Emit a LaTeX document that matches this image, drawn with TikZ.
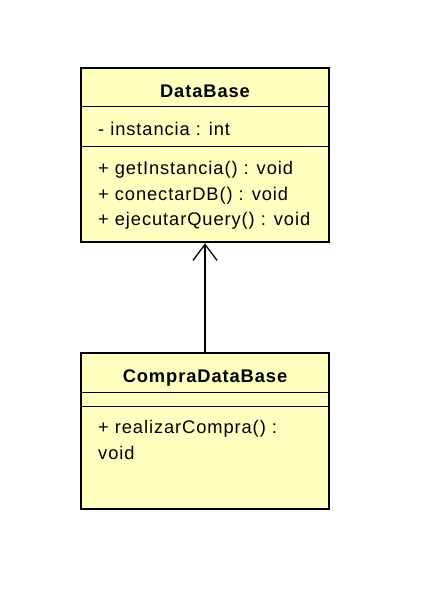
\documentclass[tikz,border=0pt]{standalone}
\usepackage{fontspec}
\setmainfont[LetterSpace=5]{Liberation Sans}
\usetikzlibrary{arrows.meta}
\definecolor{umlfill}{HTML}{FFFFC0}
\begin{document}
\begin{tikzpicture}[x=1pt,y=-1pt,
  classbox/.style={draw=black,fill=umlfill,line width=2.6pt,rectangle,inner sep=0pt,minimum width=248pt},
  sep/.style={line width=1pt},
  member/.style={anchor=base west,inner sep=0pt,font=\fontsize{18.3}{20}\selectfont},
  title/.style={anchor=base,inner sep=0pt,font=\fontsize{18.3}{20}\selectfont\bfseries},
  gen/.style={line width=1.3pt,-{Straight Barb[length=16pt,width=24pt,line width=1.3pt]}}]
\useasboundingbox (0,0) rectangle (447,603);
% DataBase
\node[classbox,minimum height=174pt] (db) at (205,155) {};
\draw[sep] (81,106) -- (329,106);
\draw[sep] (81,146.5) -- (329,146.5);
\node[title] (dbt) at (205,97) {DataBase};
\node[member] (a1) at (98,135) {- instancia : int};
\node[member] (m1) at (98,174) {+ getInstancia() : void};
\node[member] (m2) at (98,200) {+ conectarDB() : void};
\node[member] (m3) at (98,225) {+ ejecutarQuery() : void};
% CompraDataBase
\node[classbox,minimum height=156pt] (cdb) at (205,431) {};
\draw[sep] (81,392.5) -- (329,392.5);
\draw[sep] (81,406) -- (329,406);
\node[title] (cdbt) at (205,382) {CompraDataBase};
\node[member] (m4) at (98,433) {+ realizarCompra() :};
\node[member] (m5) at (98,459) {void};
% connector
\draw[gen] (cdb.north) -- (db.south);
\end{tikzpicture}
\end{document}
